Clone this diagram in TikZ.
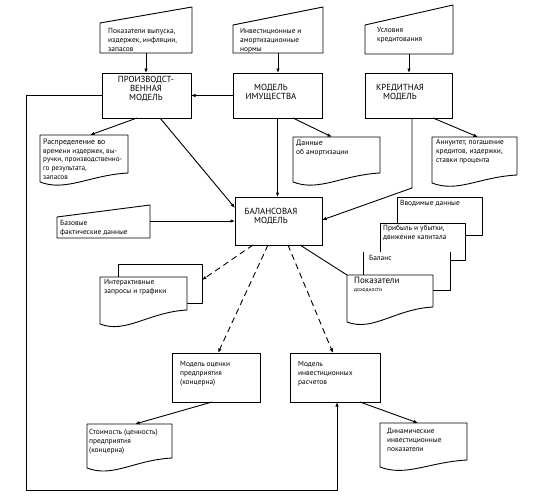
\documentclass[tikz,border=0pt]{standalone}
\usepackage{fontspec}
\setmainfont{PT Sans}
\usetikzlibrary{arrows.meta,calc}
\tikzset{
  ln/.style={line width=0.9pt},
  arr/.style={ln,-{Latex[length=4.5pt,width=3.5pt]}},
  dsh/.style={arr,dash pattern=on 6pt off 4pt},
  box/.style={draw,line width=0.9pt,fill=white,inner sep=0pt,outer sep=0pt},
  frame/.style={inner sep=0pt,outer sep=0pt},
  shp/.style={line width=0.9pt,fill=white,line join=round},
  txt/.style={inner sep=0pt,anchor=north west,align=left,font=\fontsize{7.4}{9.2}\selectfont},
  captxt/.style={inner sep=0pt,align=center,font=\fontsize{8.8}{9}\selectfont},
}
\newcommand{\wavedoc}[2]{%
  \draw[shp] ($(#1.south west)+(0,-#2pt)$) -- (#1.north west) -- (#1.north east) -- (#1.south east)
   .. controls ($(#1.south east)+(-38pt,-2pt)$) and ($(#1.south west)+(26pt,-#2pt-10pt)$) .. ($(#1.south west)+(0,-#2pt)$) -- cycle;}
\newcommand{\manin}[2]{%
  \draw[shp] (#1.south west) -- (#1.south east) -- ($(#1.north east)+(0,#2pt)$) -- (#1.north west) -- cycle;}
\begin{document}
\begin{tikzpicture}[x=1pt,y=-1pt]
\useasboundingbox (0,0) rectangle (534,503);
% manual inputs
\node[frame,minimum width=92pt,minimum height=30pt] (in1) at (146,38) {};
\manin{in1}{16}
\node[txt] (t1) at (108,28) {Показатели выпуска,\\издержек, инфляции,\\запасов};
\node[frame,minimum width=90pt,minimum height=28pt] (in2) at (278,39) {};
\manin{in2}{18}
\node[txt] (t2) at (240,28) {Инвестиционные и\\амортизационные\\нормы};
\node[frame,minimum width=88pt,minimum height=29pt] (in3) at (409,39.5) {};
\manin{in3}{20}
\node[txt] (t3) at (377,27) {Условия\\кредитования};
\node[frame,minimum width=93pt,minimum height=21pt] (in4) at (103.5,227.5) {};
\manin{in4}{12}
\node[txt] (t4) at (60,220) {Базовые\\фактические данные};
% boxes
\node[box,minimum width=89pt,minimum height=45pt] (prod) at (146.5,95.5) {};
\node[captxt] (tp) at (146,89) {ПРОИЗВОДСТ-\\ВЕННАЯ\\МОДЕЛЬ};
\node[box,minimum width=89pt,minimum height=45pt] (imus) at (277.5,95.5) {};
\node[captxt] (ti) at (271,92) {МОДЕЛЬ\\ИМУЩЕСТВА};
\node[box,minimum width=87pt,minimum height=45pt] (cred) at (408.5,95.5) {};
\node[captxt] (tc) at (400,92) {КРЕДИТНАЯ\\МОДЕЛЬ};
\node[box,minimum width=87pt,minimum height=48pt] (bal) at (278.5,221) {};
\node[captxt] (tb) at (271,216) {БАЛАНСОВАЯ\\МОДЕЛЬ};
\node[box,minimum width=88pt,minimum height=49pt] (ocen) at (216,377.5) {};
\node[txt] (to) at (180,361) {Модель оценки\\предприятия\\(концерна)};
\node[box,minimum width=90pt,minimum height=49pt] (invr) at (335,377.5) {};
\node[txt] (tv) at (298,361) {Модель\\инвестиционных\\расчетов};
% documents
\node[frame,minimum width=88pt,minimum height=38pt] (d1) at (84,154) {};
\wavedoc{d1}{9}
\node[txt,font=\fontsize{7.2}{8.6}\selectfont] (td1) at (43,139) {{\fontsize{7.8}{8.6}\selectfont Распределение во}\\времени издержек, вы-\\ручки, производственно-\\го результата,\\запасов};
\node[frame,minimum width=87pt,minimum height=36pt] (d2) at (336.5,155) {};
\wavedoc{d2}{9}
\node[txt] (td2) at (296,140) {{\fontsize{7.8}{9}\selectfont Данные}\\об амортизации};
\node[frame,minimum width=85pt,minimum height=38pt] (d3) at (474.5,156) {};
\wavedoc{d3}{8}
\node[txt] (td3) at (436,139) {Аннуитет, погашение\\кредитов, издержки,\\ставки процента};
\node[frame,minimum width=85pt,minimum height=34pt] (d4) at (129.5,441) {};
\wavedoc{d4}{10}
\node[txt] (td4) at (89,429) {Стоимость (ценность)\\предприятия\\(концерна)};
\node[frame,minimum width=87pt,minimum height=37pt] (d5) at (423.5,441.5) {};
\wavedoc{d5}{7}
\node[txt] (td5) at (387,428) {Динамические\\инвестиционные\\показатели};
% interactive multi-document
\node[frame,minimum width=84pt,minimum height=39pt] (intb) at (160,283.5) {};
\draw[shp] (intb.south west) rectangle (intb.north east);
\node[frame,minimum width=87pt,minimum height=33pt] (intf) at (143.5,293.5) {};
\wavedoc{intf}{14}
\node[txt] (tint) at (104,279) {Интерактивные\\запросы и графики};
% stack of reports
\node[frame,minimum width=85pt,minimum height=38pt] (s1) at (439.5,216) {};
\draw[shp] (s1.south west) rectangle (s1.north east);
\node[txt] (ts1) at (400,200) {Вводимые данные};
\node[frame,minimum width=85pt,minimum height=37pt] (s2) at (422.5,241.5) {};
\draw[shp] (s2.south west) rectangle (s2.north east);
\node[txt] (ts2) at (383,225) {Прибыль и убытки,\\движение капитала};
\node[frame,minimum width=87pt,minimum height=38pt] (s3) at (406.5,271) {};
\fill[white] (s3.south west) rectangle (s3.north east);
\draw[ln] (s3.north west) -- (s3.south west) -- (s3.south east) -- (s3.north east);
\node[txt] (ts3) at (369,255) {Баланс};
\node[frame,minimum width=86pt,minimum height=32pt] (s4) at (390,291) {};
\wavedoc{s4}{15}
\node[txt] (ts4) at (354,277) {{\fontsize{9}{9}\selectfont Показатели}\\[-1pt]{\fontsize{5.5}{6}\selectfont доходности}};
% connectors
\draw[arr] (in1.south) -- (in1.south |- prod.north);
\draw[arr] (in2.south) -- (in2.south |- imus.north);
\draw[arr] (in3.south) -- (in3.south |- cred.north);
\draw[arr] (imus.west) -- (prod.east);
\draw[arr] ([xshift=-9.5pt]prod.south) -- ([xshift=6pt]d1.north);
\draw[arr] ([xshift=13.5pt]prod.south) -- ([yshift=-11pt]bal.north west);
\coordinate (lp) at (26,490);
\draw[arr] (prod.west) -| (lp) -| ([xshift=2pt]invr.south);
\draw[arr] ([xshift=15.5pt]imus.south) -- ([xshift=-4.5pt]d2.north);
\draw[arr] (imus.south) -- (imus.south |- bal.north);
\draw[arr] ([xshift=24.5pt]cred.south) -- ([xshift=3.5pt]d3.north);
\coordinate (cb) at (412,188);
\draw[arr] (cb |- cred.south) -- (cb) -- ([yshift=1pt]bal.east);
\draw[arr] (bal.west -| in4.east) -- (bal.west);
\draw[dsh] ([xshift=-25.5pt]bal.south) -- ([yshift=3.5pt]intb.east);
\draw[dsh] ([xshift=-10.5pt]bal.south) -- ([xshift=2pt]ocen.north);
\draw[dsh] ([xshift=9.5pt]bal.south) -- ([xshift=-2pt]invr.north);
\draw[ln] ([xshift=21.5pt]bal.south) -- (s4.north west);
\draw[arr] ([xshift=-4pt]ocen.south) -- ([xshift=5.5pt]d4.north);
\draw[arr] ([xshift=25pt]invr.south) -- ([xshift=-5.5pt]d5.north);
\end{tikzpicture}
\end{document}
